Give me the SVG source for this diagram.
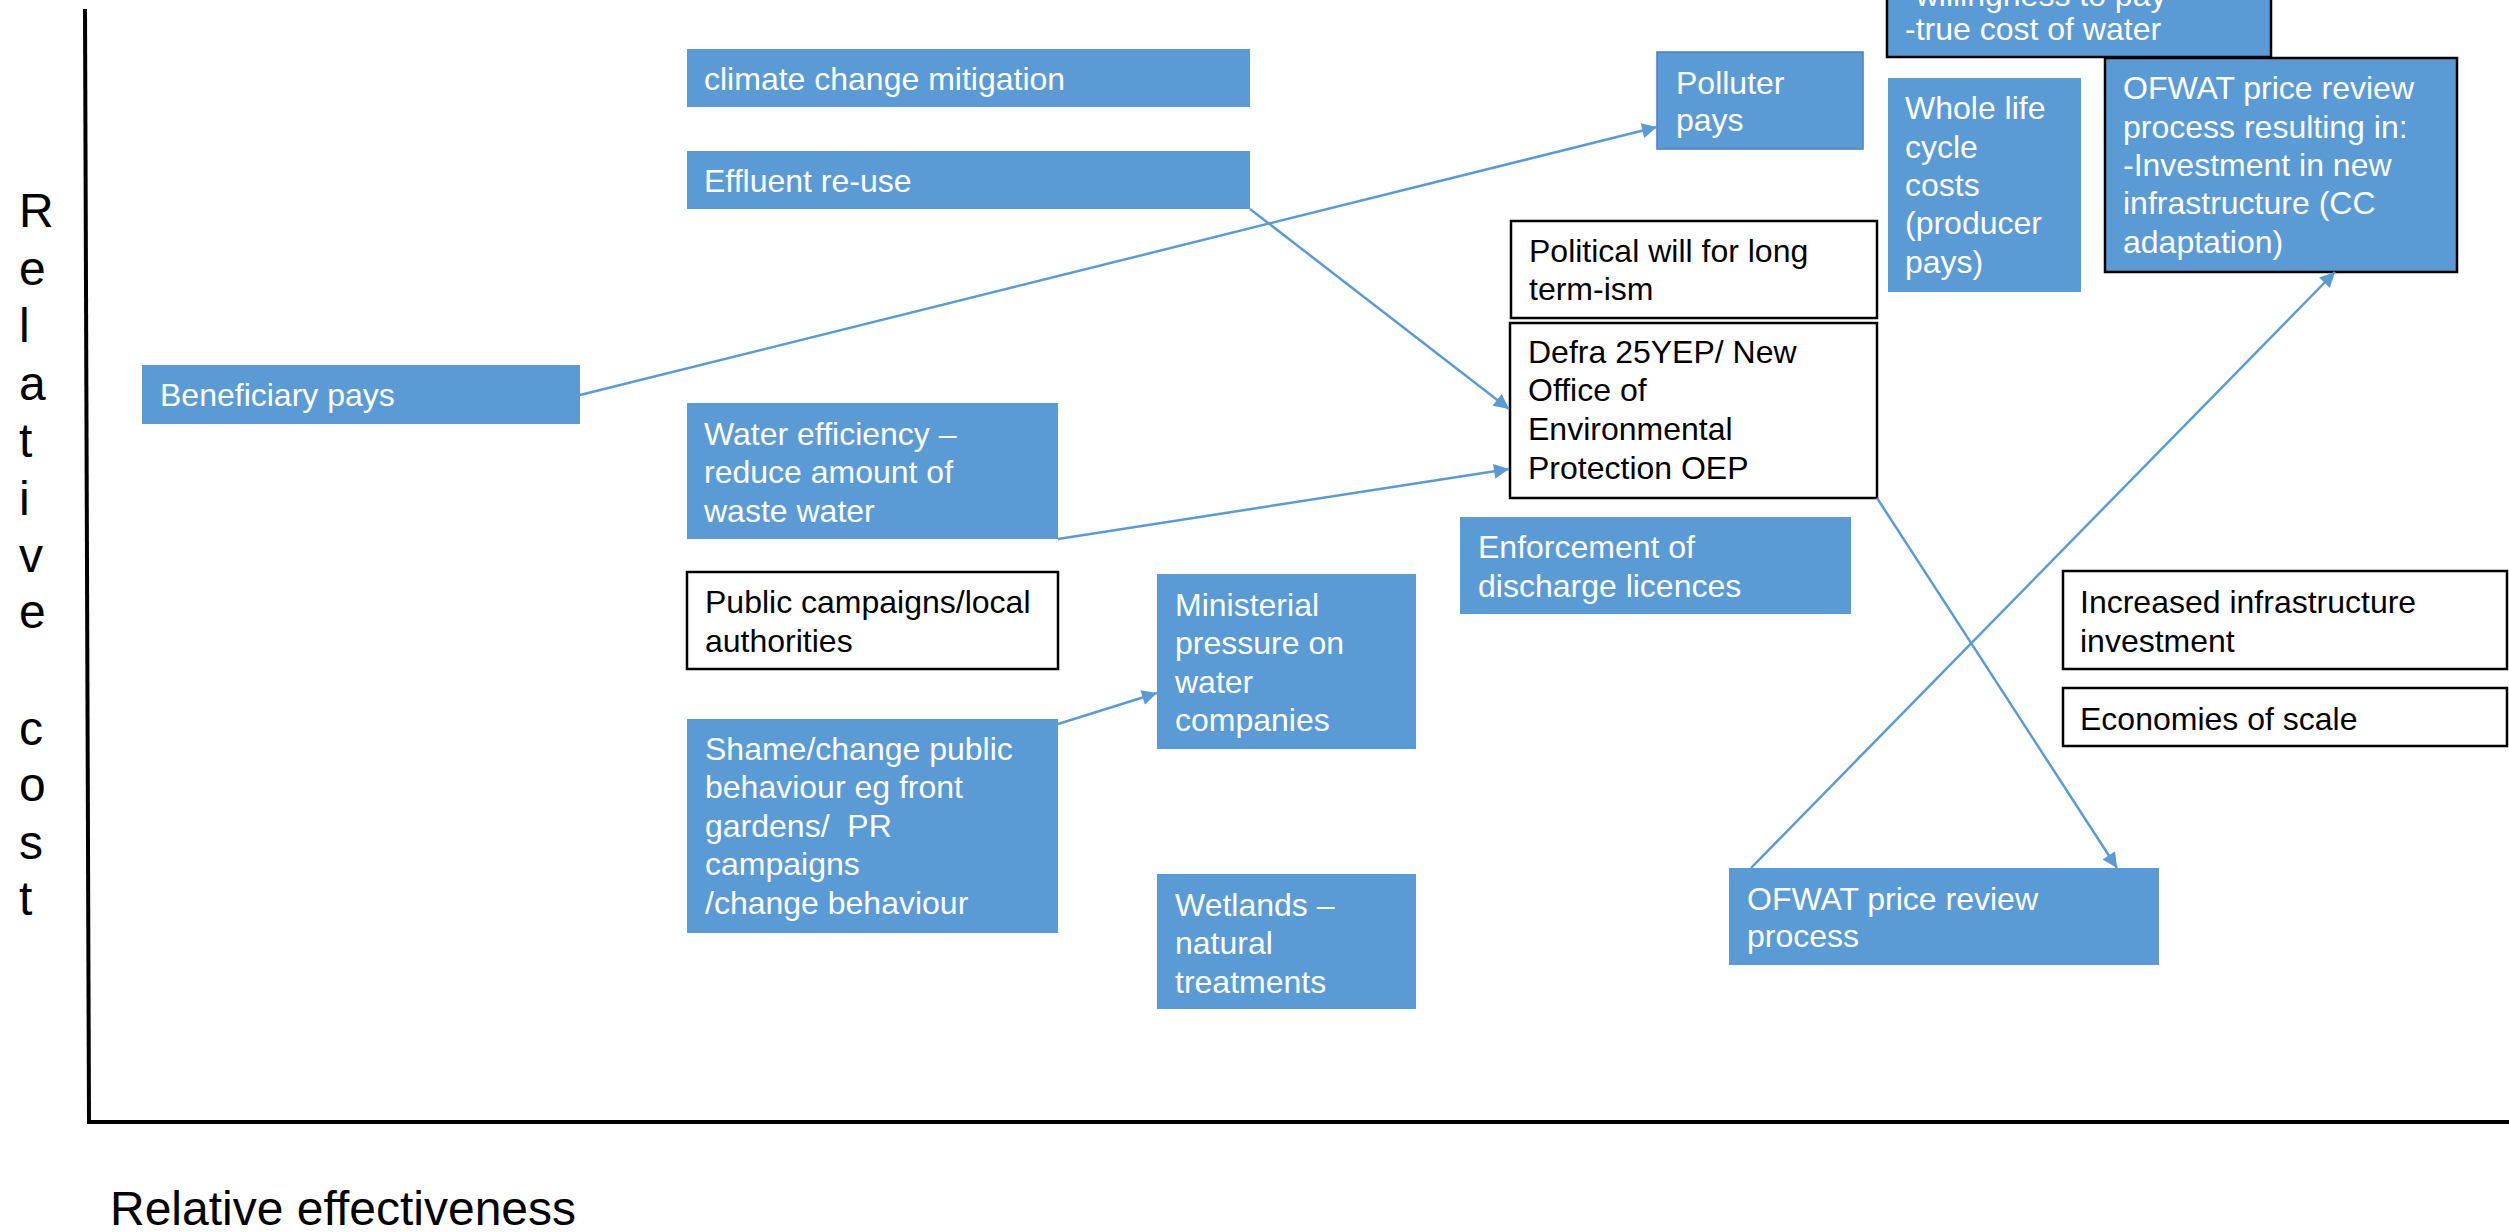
<svg xmlns="http://www.w3.org/2000/svg" width="2509" height="1232" viewBox="0 0 2509 1232">
<style>
text{font-family:"Liberation Sans",Arial,sans-serif;}
.n{font-size:32px;}
.w{fill:#ffffff;}
.k{fill:#000000;}
.blue{fill:#5B9BD5;}
.bb{fill:#5B9BD5;stroke:#000000;stroke-width:2.5;}
.wb{fill:#ffffff;stroke:#000000;stroke-width:2.5;}
.pb{fill:#5B9BD5;stroke:#4A7CC4;stroke-width:1.5;}
.ax{font-size:48px;fill:#000000;}
.c{stroke:#5B9BD5;stroke-width:2.5;fill:none;marker-end:url(#ah);}
</style>
<defs>
<marker id="ah" viewBox="0 0 10 10" refX="10" refY="5" markerWidth="20" markerHeight="15" markerUnits="userSpaceOnUse" orient="auto">
<path d="M0,0 L10,5 L0,10 z" fill="#5B9BD5"/>
</marker>
</defs>
<rect width="2509" height="1232" fill="#ffffff"/>
<g id="axes">
<line x1="85" y1="9" x2="89" y2="1124" stroke="#000" stroke-width="4"/>
<line x1="87" y1="1122" x2="2509" y2="1122" stroke="#000" stroke-width="4"/>
<text class="ax"><tspan x="19" y="227">R</tspan><tspan x="19" y="285">e</tspan><tspan x="19" y="342">l</tspan><tspan x="19" y="400">a</tspan><tspan x="19" y="457">t</tspan><tspan x="19" y="515">i</tspan><tspan x="19" y="572">v</tspan><tspan x="19" y="628">e</tspan><tspan x="19" y="745">c</tspan><tspan x="19" y="801">o</tspan><tspan x="19" y="859">s</tspan><tspan x="19" y="915">t</tspan></text>
<text class="ax" x="110" y="1225">Relative effectiveness</text>
</g>
<g id="n-willingness"><rect class="bb" x="1887" y="-40" width="384" height="97"/><text class="n w"><tspan x="1905" y="6">-willingness to pay</tspan><tspan x="1905" y="40">-true cost of water</tspan></text></g>
<g id="n-climate"><rect class="blue" x="687" y="49" width="563" height="58"/><text class="n w" x="704" y="90">climate change mitigation</text></g>
<g id="n-effluent"><rect class="blue" x="687" y="151" width="563" height="58"/><text class="n w" x="704" y="192">Effluent re-use</text></g>
<g id="n-beneficiary"><rect class="blue" x="142" y="365" width="438" height="59"/><text class="n w" x="160" y="406">Beneficiary pays</text></g>
<g id="n-water"><rect class="blue" x="687" y="403" width="371" height="136"/><text class="n w"><tspan x="704" y="445">Water efficiency –</tspan><tspan x="704" y="483">reduce amount of</tspan><tspan x="704" y="522">waste water</tspan></text></g>
<g id="n-public"><rect class="wb" x="687" y="572" width="371" height="97"/><text class="n k"><tspan x="705" y="613">Public campaigns/local</tspan><tspan x="705" y="652">authorities</tspan></text></g>
<g id="n-shame"><rect class="blue" x="687" y="719" width="371" height="214"/><text class="n w" style="white-space:pre"><tspan x="705" y="760">Shame/change public</tspan><tspan x="705" y="798">behaviour eg front</tspan><tspan x="705" y="837">gardens/  PR</tspan><tspan x="705" y="875">campaigns</tspan><tspan x="705" y="914">/change behaviour</tspan></text></g>
<g id="n-ministerial"><rect class="blue" x="1157" y="574" width="259" height="175"/><text class="n w"><tspan x="1175" y="616">Ministerial</tspan><tspan x="1175" y="654">pressure on</tspan><tspan x="1175" y="693">water</tspan><tspan x="1175" y="731">companies</tspan></text></g>
<g id="n-wetlands"><rect class="blue" x="1157" y="874" width="259" height="135"/><text class="n w"><tspan x="1175" y="916">Wetlands –</tspan><tspan x="1175" y="954">natural</tspan><tspan x="1175" y="993">treatments</tspan></text></g>
<g id="n-polluter"><rect class="pb" x="1657" y="52" width="206" height="97"/><text class="n w"><tspan x="1676" y="94">Polluter</tspan><tspan x="1676" y="131">pays</tspan></text></g>
<g id="n-political"><rect class="wb" x="1511" y="221" width="366" height="97"/><text class="n k"><tspan x="1529" y="262">Political will for long</tspan><tspan x="1529" y="300">term-ism</tspan></text></g>
<g id="n-defra"><rect class="wb" x="1510" y="323" width="367" height="175"/><text class="n k"><tspan x="1528" y="363">Defra 25YEP/ New</tspan><tspan x="1528" y="401">Office of</tspan><tspan x="1528" y="440">Environmental</tspan><tspan x="1528" y="479">Protection OEP</tspan></text></g>
<g id="n-enforcement"><rect class="blue" x="1460" y="517" width="391" height="97"/><text class="n w"><tspan x="1478" y="558">Enforcement of</tspan><tspan x="1478" y="597">discharge licences</tspan></text></g>
<g id="n-wholelife"><rect class="blue" x="1888" y="78" width="193" height="214"/><text class="n w"><tspan x="1905" y="119">Whole life</tspan><tspan x="1905" y="158">cycle</tspan><tspan x="1905" y="196">costs</tspan><tspan x="1905" y="234">(producer</tspan><tspan x="1905" y="273">pays)</tspan></text></g>
<g id="n-ofwat-result"><rect class="bb" x="2105" y="58" width="352" height="214"/><text class="n w"><tspan x="2123" y="99">OFWAT price review</tspan><tspan x="2123" y="138">process resulting in:</tspan><tspan x="2123" y="176">-Investment in new</tspan><tspan x="2123" y="214">infrastructure (CC</tspan><tspan x="2123" y="253">adaptation)</tspan></text></g>
<g id="n-increased"><rect class="wb" x="2063" y="571" width="444" height="98"/><text class="n k"><tspan x="2080" y="613">Increased infrastructure</tspan><tspan x="2080" y="652">investment</tspan></text></g>
<g id="n-economies"><rect class="wb" x="2063" y="688" width="444" height="58"/><text class="n k" x="2080" y="730">Economies of scale</text></g>
<g id="n-ofwat"><rect class="blue" x="1729" y="868" width="430" height="97"/><text class="n w"><tspan x="1747" y="910">OFWAT price review</tspan><tspan x="1747" y="947">process</tspan></text></g>
<g id="connectors">
<line class="c" x1="580" y1="395" x2="1657" y2="127"/>
<line class="c" x1="1250" y1="209" x2="1509" y2="409"/>
<line class="c" x1="1058" y1="539" x2="1509" y2="469"/>
<line class="c" x1="1058" y1="724" x2="1157" y2="693"/>
<line class="c" x1="1877" y1="498" x2="2117" y2="868"/>
<line class="c" x1="1751" y1="868" x2="2335" y2="272"/>
</g>
</svg>
